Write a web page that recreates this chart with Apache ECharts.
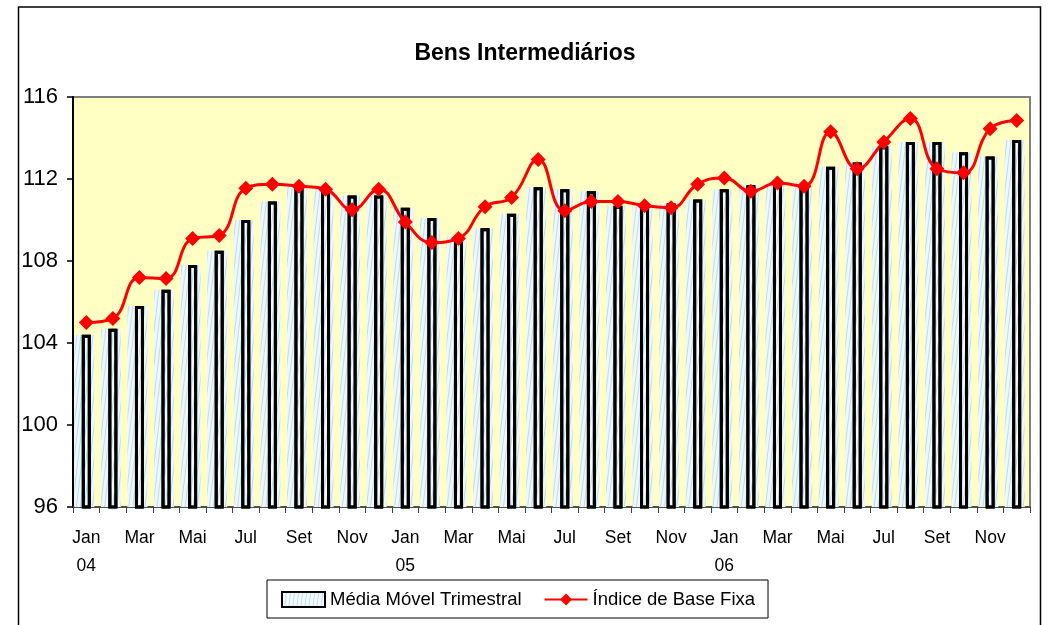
<!DOCTYPE html>
<html>
<head>
<meta charset="utf-8">
<script src="https://cdn.jsdelivr.net/npm/echarts@6/dist/echarts.min.js"></script>
<style>
html,body{margin:0;padding:0;background:#fff;}
#chart{width:1050px;height:625px;}
</style>
</head>
<body>
<div id="chart"></div>
<script>
var categories = [
  "Jan\n04","Fev","Mar","Abr","Mai","Jun","Jul","Ago","Set","Out","Nov","Dez",
  "Jan\n05","Fev","Mar","Abr","Mai","Jun","Jul","Ago","Set","Out","Nov","Dez",
  "Jan\n06","Fev","Mar","Abr","Mai","Jun","Jul","Ago","Set","Out","Nov","Dez"
];
var mediaMovel = [
  104.4, 104.7, 105.8, 106.6, 107.8, 108.5, 110.0, 110.9, 111.7, 111.6, 111.2, 111.2,
  110.6, 110.1, 109.2, 109.6, 110.3, 111.6, 111.5, 111.4, 110.7, 110.8, 110.8, 111.0,
  111.5, 111.7, 111.7, 111.6, 112.6, 112.8, 113.6, 113.8, 113.8, 113.3, 113.1, 113.9
];
var indiceBase = [
  105.0, 105.2, 107.2, 107.15, 109.1, 109.25, 111.55, 111.75, 111.65, 111.5, 110.5, 111.5,
  109.9, 108.9, 109.1, 110.65, 111.1, 112.95, 110.45, 110.9, 110.9, 110.7, 110.6, 111.75,
  112.05, 111.4, 111.8, 111.65, 114.3, 112.5, 113.8, 114.95, 112.5, 112.3, 114.45, 114.85
];
var seriesNames = ["Média Móvel Trimestral", "Índice de Base Fixa"];
var titleText = "Bens Intermediários";

var FONT = "Liberation Sans, Arial, sans-serif";
var decal = {
  symbol: 'rect',
  symbolSize: 1,
  color: 'rgba(150,200,225,0.55)',
  dashArrayX: [1, 3],
  dashArrayY: [1, 0],
  rotation: 0.12
};

var chart = echarts.init(document.getElementById('chart'), null, {renderer: 'canvas'});
var option = {
  animation: false,
  backgroundColor: '#ffffff',
  title: {
    text: titleText,
    left: 'center',
    top: 37,
    textStyle: {fontFamily: FONT, fontSize: 23, fontWeight: 'bold', color: '#000'}
  },
  graphic: [{
    type: 'rect',
    shape: {x: 18.5, y: 7, width: 1022, height: 700},
    style: {fill: 'none', stroke: '#000', lineWidth: 1.5},
    silent: true,
    z: 0
  }],
  legend: {
    left: 267,
    top: 580,
    orient: 'horizontal',
    backgroundColor: '#fff',
    borderColor: '#000',
    borderWidth: 1,
    borderRadius: 0,
    padding: [10, 13, 9, 14],
    itemGap: 22,
    itemWidth: 43,
    itemHeight: 15,
    textStyle: {fontFamily: FONT, fontSize: 18.5, color: '#000', padding: [0, 0, 0, 0]},
    data: [
      {name: seriesNames[0], icon: 'rect'},
      {name: seriesNames[1]}
    ]
  },
  grid: [
    {left: 73, top: 97, right: 20, height: 410, show: true,
     backgroundColor: '#ffffc4', borderColor: '#808080', borderWidth: 2},
    {left: 71, top: 97, right: 22, height: 410, show: false}
  ],
  xAxis: [{
    type: 'category',
    gridIndex: 0,
    data: categories,
    boundaryGap: true,
    axisLine: {lineStyle: {color: '#404040', width: 1.5}},
    axisTick: {show: true, interval: 0, length: 6, lineStyle: {color: '#404040', width: 1}},
    axisLabel: {interval: 1, margin: 17, fontFamily: FONT, fontSize: 17.5, color: '#000', lineHeight: 28},
    splitLine: {show: false}
  }, {
    type: 'category',
    gridIndex: 1,
    data: categories,
    boundaryGap: true,
    show: false
  }],
  yAxis: [{
    type: 'value',
    gridIndex: 0,
    min: 96,
    max: 116,
    interval: 4,
    axisLine: {show: true, lineStyle: {color: '#000', width: 2}},
    axisTick: {show: true, length: 6, lineStyle: {color: '#000', width: 1.5}},
    axisLabel: {margin: 15, fontFamily: FONT, fontSize: 22, color: '#000'},
    splitLine: {show: false}
  }, {
    type: 'value',
    gridIndex: 1,
    min: 96,
    max: 116,
    interval: 4,
    show: false,
    splitLine: {show: false}
  }],
  series: [
    {
      name: 'sombra',
      type: 'bar',
      xAxisIndex: 1,
      yAxisIndex: 1,
      data: mediaMovel,
      barWidth: 20,
      silent: true,
      itemStyle: {color: '#eef7fa', decal: decal},
      z: 1
    },
    {
      name: seriesNames[0],
      type: 'bar',
      xAxisIndex: 0,
      yAxisIndex: 0,
      data: mediaMovel,
      barWidth: 9,
      itemStyle: {color: '#f4fafc', borderColor: '#000', borderWidth: 3, decal: decal},
      z: 2
    },
    {
      name: seriesNames[1],
      type: 'line',
      xAxisIndex: 0,
      yAxisIndex: 0,
      data: indiceBase,
      smooth: 0.45,
      symbol: 'diamond',
      symbolSize: 15,
      lineStyle: {color: '#ff0000', width: 3},
      itemStyle: {color: '#ff0000'},
      z: 3
    }
  ]
};
chart.setOption(option);
</script>
</body>
</html>
